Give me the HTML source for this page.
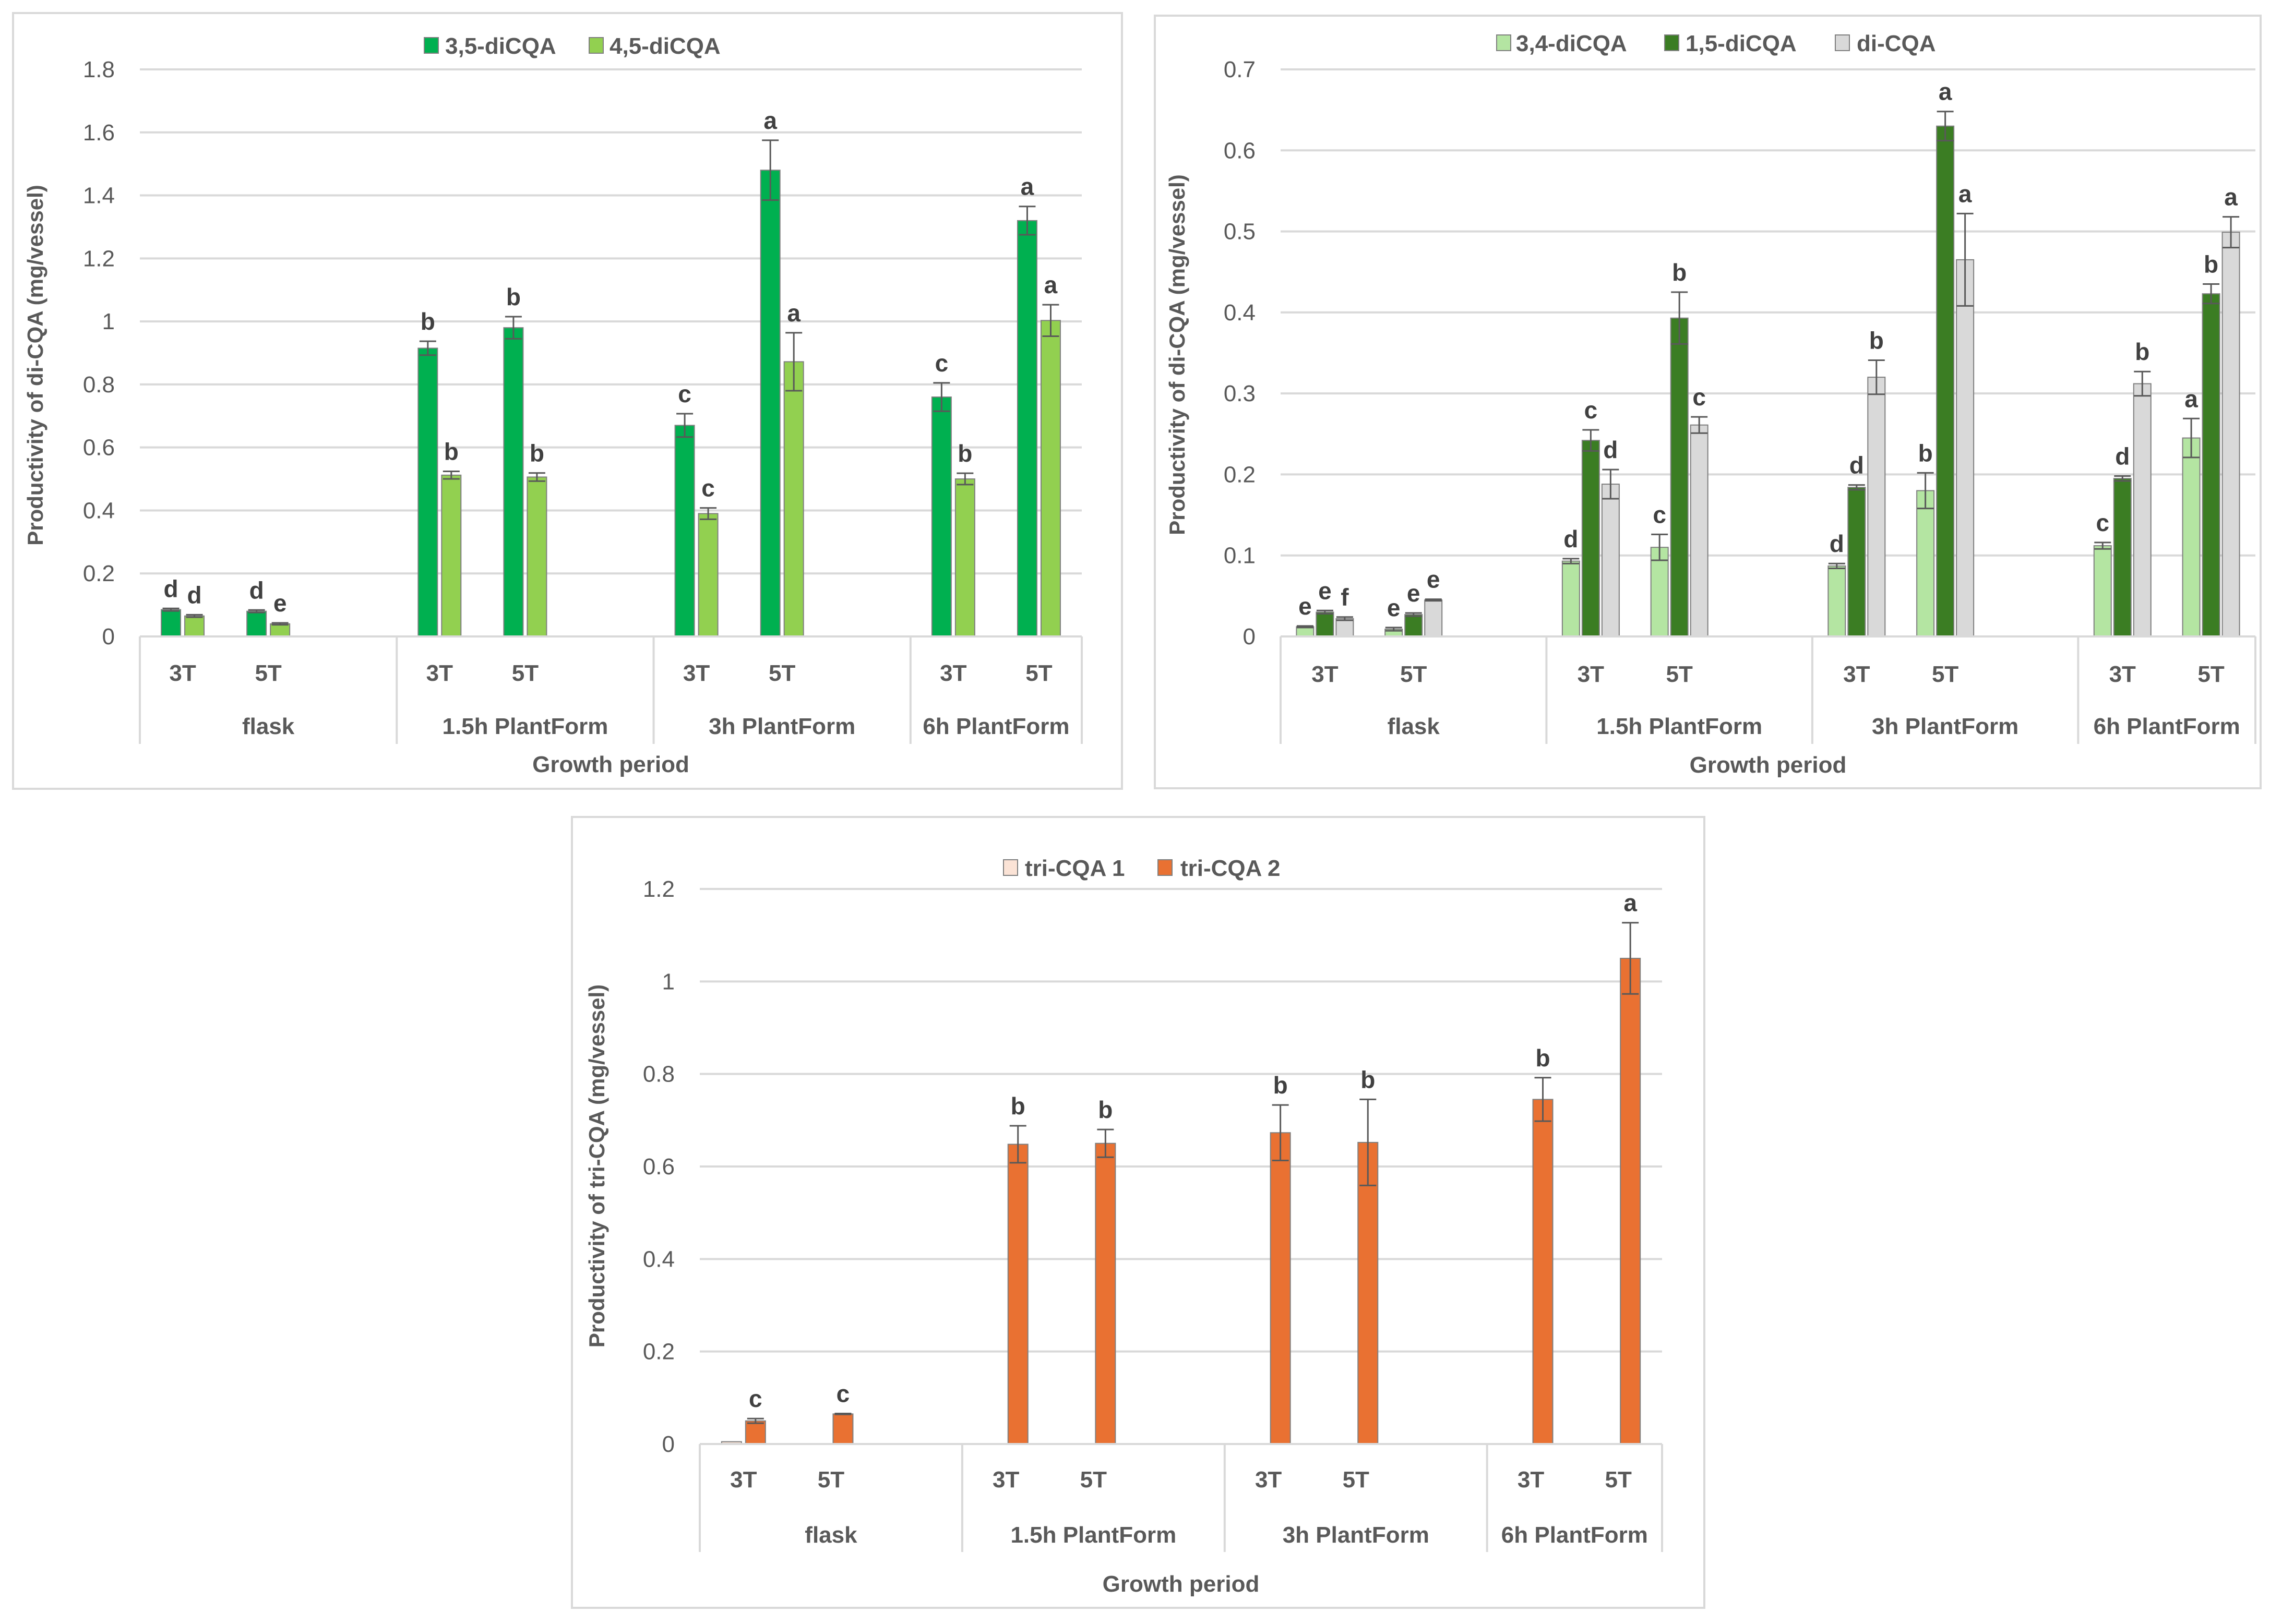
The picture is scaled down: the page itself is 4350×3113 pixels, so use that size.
<!DOCTYPE html>
<html><head><meta charset="utf-8"><style>
html,body{margin:0;padding:0;background:#fff}
svg{display:block}
text{font-family:"Liberation Sans",sans-serif}
</style></head><body>
<svg id="root" width="4350" height="3113" viewBox="0 0 4350 3113" xmlns="http://www.w3.org/2000/svg"></svg>
<script>
// ---- Chart 1 data ----
const cats = ["3T","5T","","3T","5T","","3T","5T","","3T","5T"];
const groups1 = ["flask","1.5h PlantForm","3h PlantForm","6h PlantForm"];
const c1Series = ["3,5-diCQA","4,5-diCQA"];
const c1A = [0.085,0.08,null,0.915,0.98,null,0.67,1.48,null,0.76,1.32];
const c1AErr = [0.004,0.004,null,0.022,0.035,null,0.037,0.095,null,0.045,0.045];
const c1ALet = ["d","d",null,"b","b",null,"c","a",null,"c","a"];
const c1B = [0.065,0.04,null,0.512,0.506,null,0.39,0.872,null,0.5,1.003];
const c1BErr = [0.004,0.003,null,0.012,0.013,null,0.018,0.092,null,0.018,0.05];
const c1BLet = ["d","e",null,"b","b",null,"c","a",null,"b","a"];
const c1Ticks = ["0","0.2","0.4","0.6","0.8","1","1.2","1.4","1.6","1.8"];
// ---- Chart 2 data ----
const c2Series = ["3,4-diCQA","1,5-diCQA","di-CQA"];
const c2A = [0.012,0.009,null,0.093,0.11,null,0.087,0.18,null,0.112,0.245];
const c2AErr = [0.001,0.002,null,0.003,0.016,null,0.003,0.022,null,0.004,0.024];
const c2ALet = ["e","e",null,"d","c",null,"d","b",null,"c","a"];
const c2B = [0.03,0.027,null,0.242,0.393,null,0.184,0.63,null,0.195,0.423];
const c2BErr = [0.002,0.002,null,0.013,0.032,null,0.003,0.018,null,0.003,0.012];
const c2BLet = ["e","e",null,"c","b",null,"d","a",null,"d","b"];
const c2C = [0.022,0.045,null,0.188,0.261,null,0.32,0.465,null,0.312,0.499];
const c2CErr = [0.002,0.001,null,0.018,0.01,null,0.021,0.057,null,0.015,0.019];
const c2CLet = ["f","e",null,"d","c",null,"b","a",null,"b","a"];
const c2Ticks = ["0","0.1","0.2","0.3","0.4","0.5","0.6","0.7"];
// ---- Chart 3 data ----
const c3Series = ["tri-CQA 1","tri-CQA 2"];
const c3A = [0.005,0,null,0,0,null,0,0,null,0,0];
const c3B = [0.05,0.065,null,0.648,0.65,null,0.673,0.652,null,0.745,1.05];
const c3BErr = [0.005,0.001,null,0.04,0.03,null,0.06,0.093,null,0.047,0.077];
const c3BLet = ["c","c",null,"b","b",null,"b","b",null,"b","a"];
const c3Ticks = ["0","0.2","0.4","0.6","0.8","1","1.2"];

const NS="http://www.w3.org/2000/svg";
const root=document.getElementById('root');
function mk(tag,attrs,parent,txt){const e=document.createElementNS(NS,tag);for(const k in attrs)e.setAttribute(k,attrs[k]);if(txt!=null)e.textContent=txt;(parent||root).appendChild(e);return e;}

function chart(cfg){
  const g=mk('g',{});
  
  
  const fr=mk('rect',{x:cfg.frame[0],y:cfg.frame[1],width:cfg.frame[2]-cfg.frame[0],height:cfg.frame[3]-cfg.frame[1],fill:'#fff',stroke:'#d9d9d9','stroke-width':4},g);
  
  
  const L=cfg.plot[0],R=cfg.plot[1],Y0=cfg.y0,YT=cfg.ytop,max=cfg.max;
  const y=v=>Y0-(v/max)*(Y0-YT);
  const slot=(R-L)/cats.length;
  const x=i=>L+slot*(i+0.5);
  // gridlines + ticks
  cfg.ticks.forEach(t=>{
    const v=parseFloat(t);
    const gl=mk('line',{x1:L,x2:R,y1:y(v),y2:y(v),stroke:'#d9d9d9','stroke-width':4},g);
    
    
    const tl=mk('text',{x:L-48,y:y(v)+15,'text-anchor':'end','font-size':44,fill:'#595959'},g,t);
    
    
  });
  // bars
  const n=cfg.series.length,bw=cfg.bw,gap=cfg.gap;
  const tot=n*bw+(n-1)*gap;
  cfg.series.forEach((s,si)=>{
    s.vals.forEach((v,i)=>{
      if(v==null)return;
      const bx=x(i)-tot/2+si*(bw+gap);
      const b=mk('rect',{x:bx,y:y(v),width:bw,height:Y0-y(v),fill:s.color,stroke:'#7f7f7f','stroke-width':2},g);
      
      
      const cx=bx+bw/2;
      if(s.err&&s.err[i]!=null&&v>0){
        const e=s.err[i];
        const eb=mk('path',{d:`M${cx},${y(v-e)}V${y(v+e)}M${cx-16},${y(v+e)}H${cx+16}M${cx-16},${y(v-e)}H${cx+16}`,stroke:'#595959','stroke-width':3,fill:'none'},g);
        
        
      }
      if(s.let&&s.let[i]){
        const top=v+(s.err&&s.err[i]?s.err[i]:0);
        const lt=mk('text',{x:cx,y:y(top)-22,'text-anchor':'middle','font-size':46,'font-weight':'bold',fill:'#404040'},g,s.let[i]);
        
        
      }
    });
  });
  // axis
  const ax=mk('line',{x1:L,x2:R,y1:Y0,y2:Y0,stroke:'#d9d9d9','stroke-width':4},g);
  
  
  const bounds=[0,3,6,9,11];
  bounds.forEach(bi=>{
    const gx=L+slot*bi;
    const vl=mk('line',{x1:gx,x2:gx,y1:Y0,y2:cfg.sepBottom,stroke:'#d9d9d9','stroke-width':4},g);
    
    
  });
  cats.forEach((c,i)=>{
    if(!c)return;
    const t=mk('text',{x:x(i),y:cfg.catY+16,'text-anchor':'middle','font-size':44,'font-weight':'bold',fill:'#595959'},g,c);
    
    
  });
  groups1.forEach((gname,gi)=>{
    const gx=(L+slot*bounds[gi]+L+slot*bounds[gi+1])/2;
    const t=mk('text',{x:gx,y:cfg.grpY+16,'text-anchor':'middle','font-size':44,'font-weight':'bold',fill:'#595959'},g,gname);
    
    
  });
  const xt=mk('text',{x:(L+R)/2,y:cfg.xtY+16,'text-anchor':'middle','font-size':44,'font-weight':'bold',fill:'#595959'},g,'Growth period');
  
  
  const yt=mk('text',{x:0,y:0,'text-anchor':'middle','font-size':42,'font-weight':'bold',fill:'#595959',transform:`translate(${cfg.ytX},${cfg.ytY}) rotate(-90)`},g,cfg.ytitle);
  
  
  cfg.legend.forEach((it,k)=>{
    const s=cfg.series[k];
    const lg=mk('g',{},g);
    
    
    mk('rect',{x:it[0],y:cfg.legY-15,width:27,height:30,fill:s.color,stroke:'#7f7f7f','stroke-width':2},lg);
    mk('text',{x:it[1],y:cfg.legY+16,'font-size':44,'font-weight':'bold',fill:'#595959'},lg,s.name);
  });
}

chart({name:'chart-di-cqa-1',frame:[25,25,2150,1512],plot:[268,2073],y0:1220,ytop:133,max:1.8,ticks:c1Ticks,
  bw:37,gap:8,sepBottom:1426,catY:1289,grpY:1391,xtY:1464,ytX:82,ytY:700,ytitle:'Productivity of di-CQA (mg/vessel)',
  legY:87,legend:[[813,853],[1129,1168]],
  series:[{key:'3-5-dicqa',name:c1Series[0],color:'#00b050',vals:c1A,err:c1AErr,let:c1ALet},
          {key:'4-5-dicqa',name:c1Series[1],color:'#92d050',vals:c1B,err:c1BErr,let:c1BLet}]});

chart({name:'chart-di-cqa-2',frame:[2213,30,4332,1511],plot:[2454,4322],y0:1220,ytop:133,max:0.7,ticks:c2Ticks,
  bw:33,gap:5,sepBottom:1426,catY:1291,grpY:1391,xtY:1465,ytX:2270,ytY:680,ytitle:'Productivity of di-CQA (mg/vessel)',
  legY:82,legend:[[2868,2905],[3190,3230],[3517,3558]],
  series:[{key:'3-4-dicqa',name:c2Series[0],color:'#b4e5a2',vals:c2A,err:c2AErr,let:c2ALet},
          {key:'1-5-dicqa',name:c2Series[1],color:'#3b7d23',vals:c2B,err:c2BErr,let:c2BLet},
          {key:'di-cqa',name:c2Series[2],color:'#d9d9d9',vals:c2C,err:c2CErr,let:c2CLet}]});

chart({name:'chart-tri-cqa',frame:[1096,1566,3266,3082],plot:[1341,3185],y0:2768,ytop:1704,max:1.2,ticks:c3Ticks,
  bw:38,gap:8,sepBottom:2975,catY:2835,grpY:2941,xtY:3035,ytX:1158,ytY:2235,ytitle:'Productivity of tri-CQA (mg/vessel)',
  legY:1663,legend:[[1923,1964],[2219,2262]],
  series:[{key:'tri-cqa-1',name:c3Series[0],color:'#fbe3d6',vals:c3A,err:null,let:null},
          {key:'tri-cqa-2',name:c3Series[1],color:'#e97132',vals:c3B,err:c3BErr,let:c3BLet}]});
</script>
</body></html>
